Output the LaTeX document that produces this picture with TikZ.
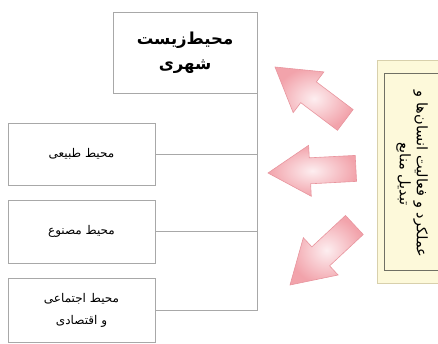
\documentclass[tikz,border=0pt]{standalone}
\usepackage{fontspec}
\newfontfamily\arabicfont[Script=Arabic]{DejaVu Sans}
\TeXXeTstate=1
\definecolor{boxgray}{HTML}{A8A8A8}
\definecolor{notecream}{HTML}{FDF9DA}
\definecolor{noteedge}{HTML}{D8D0AC}
\definecolor{noteline}{HTML}{707064}
\definecolor{arrowpink}{HTML}{F2A3AB}
\definecolor{arrowlight}{HTML}{FDEEF0}
\definecolor{arrowedge}{HTML}{E8959E}
% block arrow: tip position, turn angle
\newcommand\blockarrow[2]{%
	\path[pinkarrow,shift={#1},rotate=#2] (0,0) -- (42,-25.5) -- (42,-13) -- (88,-13) -- (88,13) -- (42,13) -- (42,25.5) -- cycle;}

\begin{document}
\begin{tikzpicture}[x=1pt,y=-1pt,
	envbox/.style={draw=boxgray,line width=0.9pt,fill=white,minimum width=147pt,align=center,inner sep=0pt,font=\arabicfont\fontsize{12}{22}\selectfont},
	link/.style={draw=boxgray,line width=0.9pt},
	pinkarrow/.style={draw=arrowedge,line width=0.6pt,inner color=arrowlight,outer color=arrowpink}]
	\useasboundingbox (0,0) rectangle (438,344);

	\node[envbox,minimum width=144pt,minimum height=81pt,font=\arabicfont\bfseries\fontsize{16.5}{25}\selectfont] (top) at (185,52.5) {\beginR محیط‌زیست\endR\\\beginR شهری\endR};
	\node[envbox,minimum height=62pt] (nature) at (81.5,154) {\beginR محیط طبیعی\endR};
	\node[envbox,minimum height=63pt] (built) at (81.5,231.5) {\beginR محیط مصنوع\endR};
	\node[envbox,minimum height=64pt] (social) at (81.5,310) {\beginR محیط اجتماعی\endR\\\beginR و اقتصادی\endR};

	\draw[link] (top.south east) -- (social.east -| top.east) -- (social.east);
	\draw[link] (nature.east) -- (nature.east -| top.east);
	\draw[link] (built.east) -- (built.east -| top.east);

	% note on the right
	\fill[notecream,draw=noteedge,line width=0.8pt] (377,60) rectangle (445,283);
	\node[draw=noteline,line width=1.2pt,minimum width=64pt,minimum height=197pt,anchor=north west,inner sep=0pt] (actors) at (384,73) {};
	\node[rotate=-90,align=center,font=\arabicfont\fontsize{14.5}{17}\selectfont] (actorstext) at (412,174) {\beginR عملکرد و فعالیت انسان‌ها و\endR\\\beginR تبدیل منابع\endR};

	\blockarrow{(275,67)}{-37}
	\blockarrow{(268,173)}{3}
	\blockarrow{(290,285)}{43}
\end{tikzpicture}
\end{document}
